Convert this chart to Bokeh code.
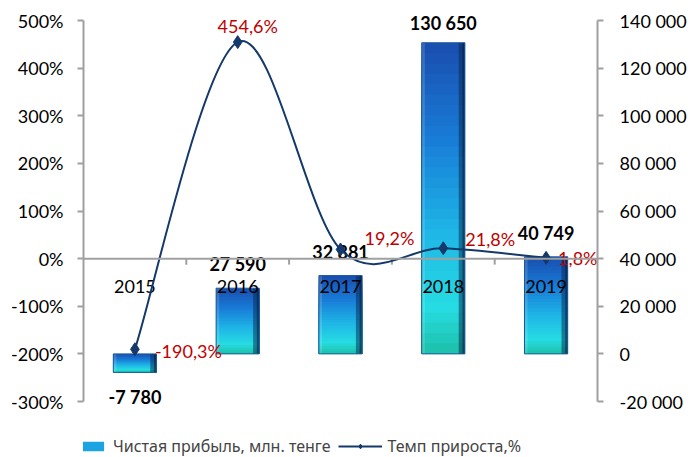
import numpy as np
from bokeh.plotting import figure
from bokeh.models import (Range1d, LinearAxis, SingleIntervalTicker, Span,
                          PrintfTickFormatter, CustomJSTickFormatter, ColumnDataSource,
                          Legend, LegendItem)
from bokeh.core.properties import value
from bokeh.embed import file_html
from bokeh.resources import INLINE

# ---- data ----
years = ["2015", "2016", "2017", "2018", "2019"]
profit = [-7780, 27590, 32881, 130650, 40749]          # млн. тенге (right axis)
growth = [-190.3, 454.6, 19.2, 21.8, 1.8]              # % (left axis)
profit_name = "Чистая прибыль, млн. тенге"
growth_name = "Темп прироста,%"
left_lim = (-300, 500)
right_lim = (-20000, 140000)

FONT = value("Lato")
GRAY = "#a0a0a0"
NAVY = "#14396a"
RED = "#c00000"

# layout (pixels): axis span 20..401, frame = full height 0..457
AX_TOP, AX_BOT, H = 20, 401, 457
span_px = AX_BOT - AX_TOP
kl = (left_lim[1] - left_lim[0]) / span_px
kr = (right_lim[1] - right_lim[0]) / span_px

n = len(years)
xs = np.arange(n) + 0.5

p = figure(width=691, height=H, output_backend="svg", toolbar_location=None,
           x_range=Range1d(0, n),
           y_range=Range1d(left_lim[0] - (H - AX_BOT) * kl, left_lim[1] + AX_TOP * kl),
           min_border_left=83, min_border_right=94, min_border_top=0,
           min_border_bottom=0)
p.extra_y_ranges = {"right": Range1d(right_lim[0] - (H - AX_BOT) * kr,
                                     right_lim[1] + AX_TOP * kr)}
p.outline_line_color = None
p.background_fill_color = None
p.border_fill_color = "white"
p.xgrid.visible = False
p.ygrid.visible = False
p.xaxis.visible = False
p.yaxis.visible = False

def style_axis(ax):
    ax.axis_line_color = GRAY
    ax.axis_line_width = 2
    ax.major_tick_line_color = GRAY
    ax.major_tick_line_width = 2
    ax.major_tick_in = 0
    ax.major_tick_out = 6
    ax.minor_tick_line_color = None
    ax.major_label_text_font = "Lato"
    ax.major_label_text_font_size = "18px"
    ax.major_label_text_color = "black"

left = LinearAxis(ticker=SingleIntervalTicker(interval=100),
                  formatter=PrintfTickFormatter(format="%d%%"), bounds=left_lim)
style_axis(left)
left.major_label_standoff = 14
p.add_layout(left, "left")

right = LinearAxis(y_range_name="right", ticker=SingleIntervalTicker(interval=20000),
                   formatter=CustomJSTickFormatter(code="return tick.toString().replace(/\\B(?=(\\d{3})+(?!\\d))/g, ' ');"),
                   bounds=right_lim)
style_axis(right)
right.major_label_standoff = 16
p.add_layout(right, "right")

# horizontal line at 0 % with tick marks between categories
p.add_layout(Span(location=0, dimension="width", line_color=GRAY, line_width=2))
bx = np.arange(1, n)
p.segment(x0=bx, y0=[0] * len(bx), x1=bx, y1=[-6 * kl] * len(bx),
          line_color=GRAY, line_width=2)

# ---- bars (gradient built from overlapping strips) ----
stops = [(0.0, (0x1a, 0x4e, 0xae)), (0.3, (0x18, 0x7a, 0xd6)), (0.6, (0x1e, 0xb4, 0xe6)),
         (0.85, (0x26, 0xdc, 0xe2)), (1.0, (0x1c, 0xc0, 0xa8))]

def grad(t):
    for (t0, c0), (t1, c1) in zip(stops[:-1], stops[1:]):
        if t <= t1:
            f = (t - t0) / (t1 - t0)
            c = [int(round(a + (b - a) * f)) for a, b in zip(c0, c1)]
            return "#%02x%02x%02x" % tuple(c)
    return "#%02x%02x%02x" % stops[-1][1]

N = 30
BW = 0.42
sx, st, sb, sc = [], [], [], []
for k in range(N):
    for x, v in zip(xs, profit):
        hi, lo = max(0, v), min(0, v)
        h = (hi - lo) / N
        sx.append(x)
        st.append(hi - k * h)
        sb.append(lo)
        sc.append(grad((k + 0.5) / N))
strips = p.vbar(x=sx, top=st, bottom=sb, width=BW, fill_color=sc, line_color=None,
                y_range_name="right")
lo_ = [min(0, v) for v in profit]
hi_ = [max(0, v) for v in profit]
edge_r = p.vbar(x=xs + BW / 2 - 0.03, top=hi_, bottom=lo_, width=0.06,
                fill_color="#06264d", fill_alpha=0.5, line_color=None, y_range_name="right")
edge_r2 = p.vbar(x=xs + BW / 2 - 0.012, top=hi_, bottom=lo_, width=0.024,
                 fill_color="#041a38", fill_alpha=0.5, line_color=None, y_range_name="right")
edge_l = p.vbar(x=xs - BW / 2 + 0.015, top=hi_, bottom=lo_, width=0.03,
                fill_color="#ffffff", fill_alpha=0.15, line_color=None, y_range_name="right")
outline = p.vbar(x=xs, top=hi_, bottom=lo_, width=BW, fill_color=None,
                 line_color="#1b5a9a", line_width=1, y_range_name="right")

# category labels under the 0 % line
p.text(x=xs, y=[0] * n, text=years, y_offset=28, text_align="center",
       text_baseline="middle", text_font=FONT, text_font_size="18px", text_color="black")

# bar value labels
plabels = [f"{v:,}".replace(",", " ") for v in profit]
pyoff = [25, -24, -24, -20, -24]
p.text(x=xs, y=profit, text=plabels, y_offset=pyoff, text_align="center",
       text_baseline="middle", text_font=FONT, text_font_size="18px",
       text_font_style="bold", text_color="black", y_range_name="right")

# ---- smooth line (Catmull-Rom bezier through the data points) ----
P = np.column_stack([xs, np.array(growth, dtype=float)])
b = dict(x0=[], y0=[], x1=[], y1=[], cx0=[], cy0=[], cx1=[], cy1=[])
for i in range(n - 1):
    p0, p1, p2, p3 = P[max(i - 1, 0)], P[i], P[i + 1], P[min(i + 2, n - 1)]
    c1 = p1 + (p2 - p0) / 6
    c2 = p2 - (p3 - p1) / 6
    b["x0"].append(p1[0]); b["y0"].append(p1[1])
    b["x1"].append(p2[0]); b["y1"].append(p2[1])
    b["cx0"].append(c1[0]); b["cy0"].append(c1[1])
    b["cx1"].append(c2[0]); b["cy1"].append(c2[1])
curve = p.bezier(source=ColumnDataSource(b), x0="x0", y0="y0", x1="x1", y1="y1",
                 cx0="cx0", cy0="cy0", cx1="cx1", cy1="cy1",
                 line_color=NAVY, line_width=2)
marks = p.scatter(x=xs, y=growth, marker="diamond", size=13, color=NAVY)

glabels = [f"{v:.1f}%".replace(".", ",") for v in growth]
gx_off = [20, 10, 24, 22, 12]
gy_off = [2, -16, -11, -9, 0]
galign = ["left", "center", "left", "left", "left"]
p.text(x=xs, y=growth, text=glabels, x_offset=gx_off, y_offset=gy_off,
       text_align=galign, text_baseline="middle", text_font=FONT,
       text_font_size="18px", text_color=RED)

# ---- legend ----
legend = Legend(items=[LegendItem(label=profit_name, renderers=[strips],
                                  index=(N // 2) * n),
                       LegendItem(label=growth_name, renderers=[curve, marks])],
                orientation="horizontal", location=(-19, 0),
                label_text_font="Noto Sans", label_text_font_size="16px",
                glyph_width=44, glyph_height=12, label_standoff=5, spacing=8,
                padding=0, margin=0, border_line_color=None, background_fill_alpha=0)
p.add_layout(legend, "center")

open("out.html", "w").write(file_html(p, INLINE))
